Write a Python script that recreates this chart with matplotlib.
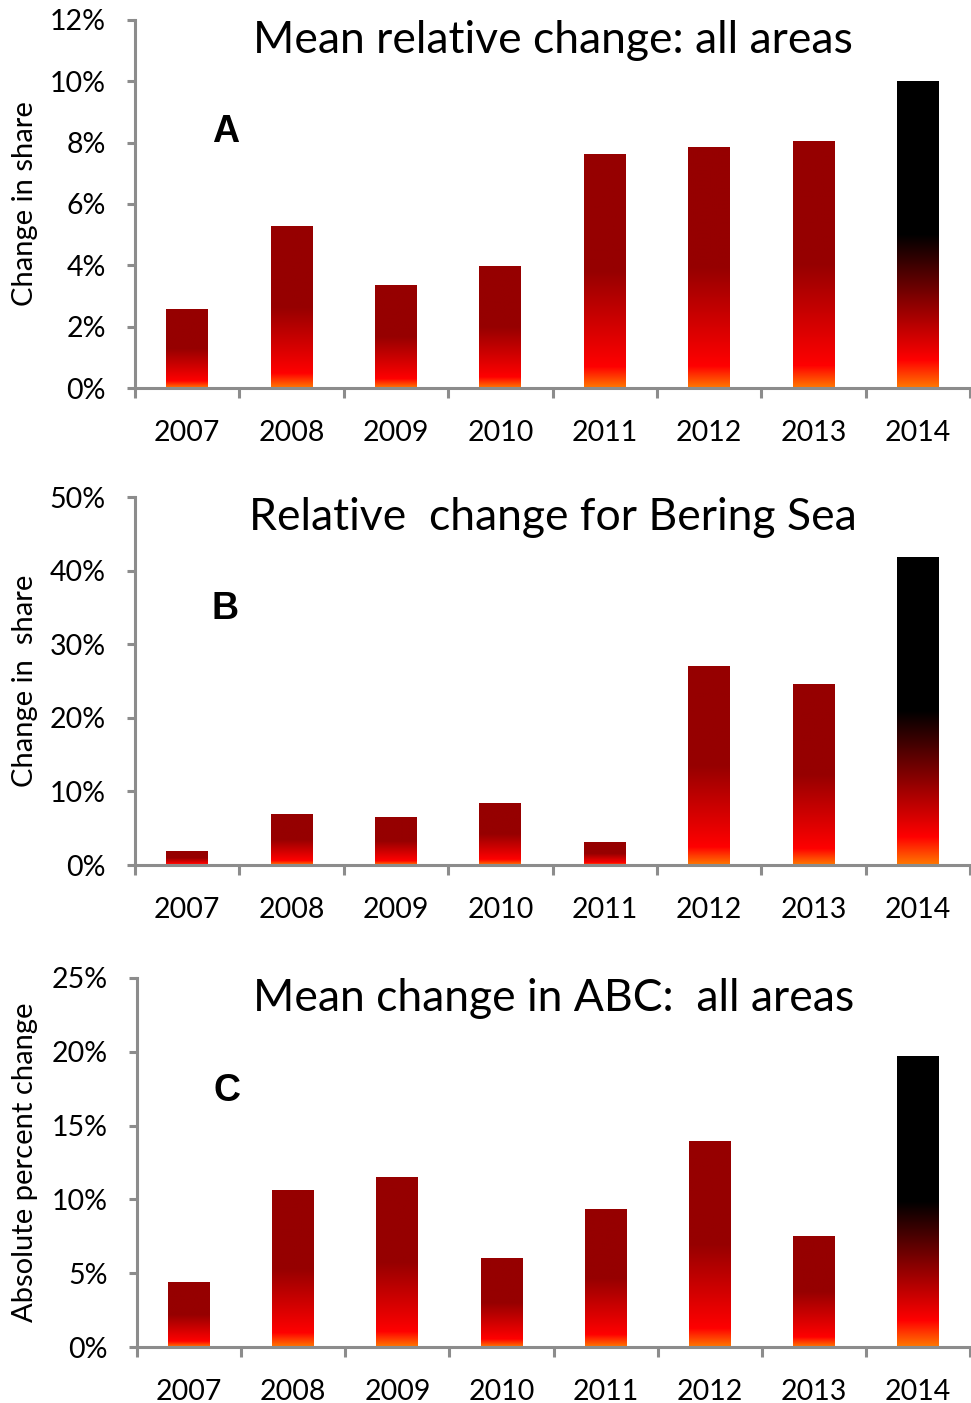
import numpy as np
import matplotlib
matplotlib.use("Agg")
import matplotlib.pyplot as plt
from matplotlib.colors import LinearSegmentedColormap
from matplotlib.ticker import FuncFormatter, MultipleLocator

years = ["2007", "2008", "2009", "2010", "2011", "2012", "2013", "2014"]
rel_all = [2.55, 5.25, 3.35, 3.95, 7.6, 7.85, 8.05, 10.0]
rel_bering = [1.9, 6.8, 6.5, 8.3, 3.1, 27.0, 24.5, 41.8]
abc_change = [4.4, 10.6, 11.45, 6.0, 9.3, 13.9, 7.5, 19.65]

titles = ["Mean relative change: all areas",
          "Relative  change for Bering Sea",
          "Mean change in ABC:  all areas"]
ylabels = ["Change in share", "Change in  share", "Absolute percent change"]
letters = ["A", "B", "C"]
ymaxes = [12, 50, 25]
ysteps = [2, 10, 5]
series = [rel_all, rel_bering, abc_change]

plt.rcParams['font.family'] = ['Lato', 'DejaVu Sans']

cmap_red = LinearSegmentedColormap.from_list(
    "red", [(0, "#FF7800"), (0.09, "#FF0000"), (0.5, "#960000"), (1, "#960000")])
cmap_black = LinearSegmentedColormap.from_list(
    "blk", [(0, "#FF7800"), (0.09, "#FF0000"), (0.5, "#000000"), (1, "#000000")])

W, H = 971, 1403
fig = plt.figure(figsize=(W / 100, H / 100), dpi=100)

axes_px = [(135, 20, 388), (135, 497, 865), (137, 978, 1347)]
grey = "#8c8c8c"
grad = np.linspace(0, 1, 256).reshape(-1, 1)

for i in range(3):
    left, top, bottom = axes_px[i]
    ax = fig.add_axes([left / W, 1 - bottom / H, (970 - left) / W, (bottom - top) / H])
    vals = series[i]
    n = len(years)
    bw = 0.4
    for j, v in enumerate(vals):
        cm = cmap_black if j == n - 1 else cmap_red
        ax.imshow(grad, cmap=cm, origin="lower", aspect="auto",
                  extent=[j - bw / 2, j + bw / 2, 0, v], interpolation="bilinear",
                  vmin=0, vmax=1, zorder=2)
    ax.set_xlim(-0.5, n - 0.5)
    ax.set_ylim(0, ymaxes[i])
    ax.yaxis.set_major_locator(MultipleLocator(ysteps[i]))
    ax.yaxis.set_major_formatter(FuncFormatter(lambda x, p: f"{x:.0f}%"))
    ax.set_xticks(np.arange(-0.5, n, 1.0))
    ax.set_xticklabels([])
    ax.set_xticks(np.arange(n), minor=True)
    ax.set_xticklabels(years, minor=True)
    ax.tick_params(axis="x", which="major", length=7, width=2.2, color=grey, direction="out")
    ax.tick_params(axis="x", which="minor", length=0, pad=23, labelsize=20.5)
    ax.tick_params(axis="y", length=6, width=2.2, color=grey, direction="out",
                   labelsize=20.5, pad=15)
    for s in ["top", "right"]:
        ax.spines[s].set_visible(False)
    for s in ["left", "bottom"]:
        ax.spines[s].set_color(grey)
        ax.spines[s].set_linewidth(2.2)
    ax.set_ylabel(ylabels[i], fontsize=21)
    ax.yaxis.set_label_coords((38 - left) / (970 - left), 0.5)
    ax.text(0.5, 0.945, titles[i], transform=ax.transAxes, ha="center", va="center",
            fontsize=32)
    ax.text(0.108, 0.695, letters[i], transform=ax.transAxes, ha="center", va="center",
            fontsize=27, fontweight="bold", family="Liberation Sans")

fig.savefig("out.png", dpi=100)
